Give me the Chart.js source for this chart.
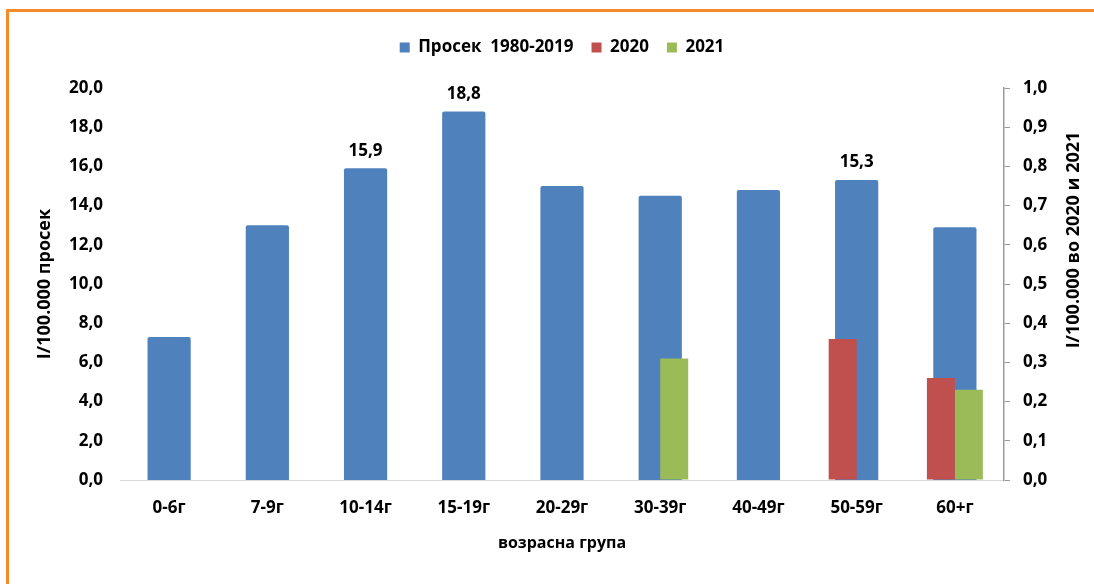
<!DOCTYPE html>
<html lang="mk">
<head>
  <meta charset="UTF-8" />
  <title>Стапка по возрасна група</title>
  <script src="https://cdn.jsdelivr.net/npm/chart.js"></script>
  <style>
    body {
      margin: 0;
      background: #ffffff;
    }
    .wrap {
      position: relative;
      width: 1094px;
      height: 584px;
    }
    .frame {
      position: absolute;
      left: 6px;
      top: 9px;
      right: 0;
      bottom: 0;
      border-top: 3px solid #f58a2a;
      border-left: 3px solid #f58a2a;
      pointer-events: none;
    }
    canvas {
      position: absolute;
      left: 0;
      top: 0;
    }
  </style>
</head>
<body>
  <div class="wrap">
    <canvas id="ageChart" width="1094" height="584"></canvas>
    <div class="frame"></div>
  </div>

  <script>
    const ageGroups = ['0-6г', '7-9г', '10-14г', '15-19г', '20-29г', '30-39г', '40-49г', '50-59г', '60+г'];
    const avg1980to2019 = [7.3, 13.0, 15.9, 18.8, 15.0, 14.5, 14.8, 15.3, 12.9];
    const rate2020 = [null, null, null, null, null, null, null, 0.36, 0.26];
    const rate2021 = [null, null, null, null, null, 0.31, null, null, 0.23];
    // which blue bars carry a value label
    const labelledBars = [2, 3, 7];

    const leftTitle = 'I/100.000 просек';
    const rightTitle = 'I/100.000 во 2020 и 2021';
    const xTitle = 'возрасна група';

    const FONT = "'Open Sans', sans-serif";
    const comma = (v, d) => Number(v).toFixed(d).replace('.', ',');

    // value labels above selected blue bars
    const barLabels = {
      id: 'barLabels',
      afterDatasetsDraw(chart) {
        const ctx = chart.ctx;
        const meta = chart.getDatasetMeta(0);
        ctx.save();
        ctx.font = 'bold 17px ' + FONT;
        ctx.fillStyle = '#000';
        ctx.textAlign = 'center';
        ctx.textBaseline = 'bottom';
        labelledBars.forEach(i => {
          const bar = meta.data[i];
          ctx.fillText(comma(avg1980to2019[i], 1), bar.x, bar.y - 9);
        });
        ctx.restore();
      }
    };

    // right axis title reads bottom to top, like the left one
    const rightAxisTitle = {
      id: 'rightAxisTitle',
      afterDraw(chart) {
        const ctx = chart.ctx;
        const s = chart.scales.y2;
        ctx.save();
        ctx.translate(s.right - 20, 240);
        ctx.rotate(-Math.PI / 2);
        ctx.font = 'bold 18px ' + FONT;
        ctx.fillStyle = '#000';
        ctx.textAlign = 'center';
        ctx.textBaseline = 'middle';
        ctx.fillText(rightTitle, 0, 0);
        ctx.restore();
      }
    };

    new Chart(document.getElementById('ageChart'), {
      type: 'bar',
      data: {
        labels: ageGroups,
        datasets: [
          {
            label: 'Просек  1980-2019',
            data: avg1980to2019,
            backgroundColor: '#4f81bd',
            borderRadius: 2,
            borderSkipped: 'bottom',
            yAxisID: 'y',
            grouped: false,
            categoryPercentage: 1,
            barPercentage: 0.44,
            order: 2
          },
          {
            label: '2020',
            data: rate2020,
            backgroundColor: '#c0504d',
            yAxisID: 'y2',
            categoryPercentage: 0.57,
            barPercentage: 1,
            order: 1
          },
          {
            label: '2021',
            data: rate2021,
            backgroundColor: '#9bbb59',
            yAxisID: 'y2',
            categoryPercentage: 0.57,
            barPercentage: 1,
            order: 1
          }
        ]
      },
      options: {
        responsive: false,
        animation: false,
        layout: { padding: { top: 21, left: 0, right: 0, bottom: 0 } },
        plugins: {
          legend: {
            position: 'top',
            fullSize: false,
            labels: {
              boxWidth: 10,
              boxHeight: 10,
              padding: 18,
              color: '#000',
              font: { family: FONT, size: 17, weight: 'bold' },
              sort: (a, b) => a.datasetIndex - b.datasetIndex
            }
          },
          // empty title used only as a gap between legend and plot
          title: {
            display: true,
            text: '',
            weight: 500,
            padding: 0,
            font: { size: 22, lineHeight: 1 }
          },
          tooltip: { enabled: false }
        },
        scales: {
          x: {
            grid: { display: false, drawTicks: false },
            border: { display: true, color: '#d9d9d9', width: 1 },
            ticks: {
              color: '#000',
              padding: 18,
              font: { family: FONT, size: 17, weight: 'bold' }
            },
            title: {
              display: true,
              text: xTitle,
              color: '#000',
              padding: { top: 0, bottom: 31 },
              font: { family: FONT, size: 16, weight: 'bold' }
            },
            afterFit(s) { s.height = 104; }
          },
          y: {
            position: 'left',
            min: 0,
            max: 20,
            grid: { display: false, drawTicks: false },
            border: { display: false },
            ticks: {
              stepSize: 2,
              color: '#000',
              padding: 17,
              font: { family: FONT, size: 17, weight: 'bold' },
              callback: v => comma(v, 1)
            },
            title: {
              display: true,
              text: leftTitle,
              color: '#000',
              padding: { top: 34, bottom: 0 },
              font: { family: FONT, size: 18, weight: 'bold' }
            },
            afterFit(s) { s.width = 120; }
          },
          y2: {
            position: 'right',
            min: 0,
            max: 1,
            grid: {
              display: true,
              drawOnChartArea: false,
              drawTicks: true,
              tickLength: 6,
              color: '#9a9a9a'
            },
            border: { display: true, color: '#9a9a9a', width: 1.5 },
            ticks: {
              stepSize: 0.1,
              color: '#000',
              padding: 13,
              font: { family: FONT, size: 17, weight: 'bold' },
              callback: v => comma(v, 1)
            },
            afterFit(s) { s.width = 90; }
          }
        }
      },
      plugins: [barLabels, rightAxisTitle]
    });
  </script>
</body>
</html>
